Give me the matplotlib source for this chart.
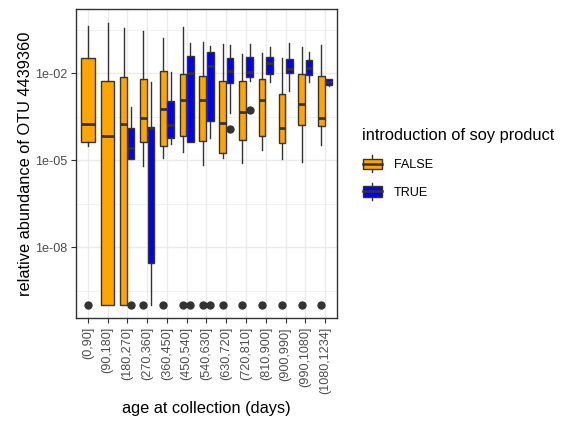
import numpy as np
import matplotlib
matplotlib.use("Agg")
import matplotlib.pyplot as plt
from matplotlib.patches import Patch, Rectangle
from matplotlib.lines import Line2D
from matplotlib.legend_handler import HandlerBase

plt.rcParams['font.family'] = ['Liberation Sans', 'DejaVu Sans']

age_bins = ["(0,90]", "(90,180]", "(180,270]", "(270,360]", "(360,450]",
            "(450,540]", "(540,630]", "(630,720]", "(720,810]", "(810,900]",
            "(900,990]", "(990,1080]", "(1080,1234]"]

# box statistics, log10 of relative abundance: [whisker low, q1, median, q3, whisker high]
false_stats = [
    [-4.51, -4.36, -3.75, -1.46, -0.37],
    [-10.0, -10.0, -4.15, -2.28, -0.28],
    [-10.0, -10.0, -3.75, -2.13, -0.45],
    [-5.20, -4.37, -3.55, -2.20, -0.54],
    [-4.91, -4.50, -3.23, -1.92, -0.79],
    [-4.72, -4.16, -2.92, -2.02, -0.41],
    [-5.16, -4.33, -2.92, -2.08, -0.93],
    [-4.93, -4.76, -3.72, -2.25, -1.00],
    [-5.10, -4.30, -3.32, -2.28, -1.33],
    [-4.64, -4.17, -2.92, -2.21, -1.31],
    [-4.96, -4.40, -3.89, -2.72, -1.48],
    [-5.05, -3.80, -3.05, -2.03, -1.10],
    [-4.46, -3.83, -3.55, -2.08, -1.01],
]
false_fliers = [[-10], [], [], [-10], [-10], [-10], [-10], [-10], [-10], [-10], [-10], [-10], [-10]]

true_stats = [
    None,
    None,
    [-4.96, -4.96, -4.59, -3.90, -3.17],
    [-10.0, -8.55, -3.87, -3.86, -2.30],
    [-4.45, -4.22, -3.78, -2.97, -1.95],
    [-4.37, -4.37, -2.00, -1.40, -0.97],
    [-4.22, -3.63, -1.75, -1.27, -1.05],
    [-3.38, -2.32, -1.91, -1.46, -1.02],
    [-2.25, -2.12, -1.97, -1.45, -0.99],
    [-2.31, -2.02, -1.66, -1.43, -1.10],
    [-2.60, -1.98, -1.86, -1.52, -0.97],
    [-2.29, -2.06, -1.81, -1.54, -1.28],
    [-2.45, -2.41, -2.31, -2.20, -2.20],
]
true_fliers = [[], [], [-10], [], [], [-10], [-10], [-3.92], [-3.28], [], [], [], []]

groups = ["FALSE", "TRUE"]
colors = {"FALSE": "#FFA500", "TRUE": "#0000FF"}
edge = "#333333"


def make_stats(row, fl):
    lo, q1, med, q3, hi = [10.0 ** v for v in row]
    return dict(whislo=lo, q1=q1, med=med, q3=q3, whishi=hi,
                fliers=[10.0 ** v for v in fl])


class BoxKey(HandlerBase):
    def create_artists(self, legend, orig_handle, xdescent, ydescent,
                       width, height, fontsize, trans):
        fc = orig_handle.get_facecolor()
        x0, y0 = -xdescent, -ydescent
        cx = x0 + width / 2
        whisk = Line2D([cx, cx], [y0 - 0.15 * height, y0 + 1.15 * height],
                       color=edge, lw=1.0, transform=trans)
        box = Rectangle((x0 + 0.05 * width, y0 + 0.1 * height), 0.9 * width, 0.8 * height,
                        facecolor=fc, edgecolor=edge, lw=1.0, transform=trans)
        med = Line2D([x0 + 0.05 * width, x0 + 0.95 * width], [y0 + 0.5 * height] * 2,
                     color=edge, lw=1.8, transform=trans)
        return [whisk, box, med]


fig = plt.figure(figsize=(5.64, 4.21), dpi=100)
ax = fig.add_axes([76 / 564, 1 - 318 / 421, 261 / 564, 308.7 / 421])

total_w = 0.75
for i in range(len(age_bins)):
    pos = i + 1
    present = [g for g, s in zip(groups, [false_stats[i], true_stats[i]]) if s is not None]
    n = len(present)
    w = total_w / n
    for k, g in enumerate(present):
        row = false_stats[i] if g == "FALSE" else true_stats[i]
        fl = false_fliers[i] if g == "FALSE" else true_fliers[i]
        p = pos - total_w / 2 + w * (k + 0.5)
        ax.bxp([make_stats(row, fl)], positions=[p], widths=w * 0.9,
               showcaps=False, patch_artist=True, manage_ticks=False,
               boxprops=dict(facecolor=colors[g], edgecolor=edge, linewidth=1.0),
               medianprops=dict(color=edge, linewidth=2.0, solid_capstyle='butt'),
               whiskerprops=dict(color=edge, linewidth=1.0),
               flierprops=dict(marker='o', markerfacecolor=edge, markeredgecolor=edge,
                               markersize=5))

ax.set_yscale('log')
ax.set_ylim(10 ** -10.44, 10 ** 0.207)
ax.set_xlim(0.4, len(age_bins) + 0.6)

ax.set_yticks([1e-2, 1e-5, 1e-8])
ax.set_yticklabels(["1e-02", "1e-05", "1e-08"])
ax.set_yticks([10 ** v for v in [-0.5, -3.5, -6.5, -9.5]], minor=True)
ax.yaxis.set_minor_formatter(matplotlib.ticker.NullFormatter())
ax.set_xticks(range(1, len(age_bins) + 1))
ax.set_xticklabels(age_bins, rotation=90)

ax.grid(True, which='major', color='#EBEBEB', linewidth=1.0)
ax.grid(True, which='minor', axis='y', color='#EBEBEB', linewidth=0.5)
ax.set_axisbelow(True)
ax.tick_params(axis='both', which='major', length=3.5, width=0.8, color=edge,
               labelsize=9.1, labelcolor='#4D4D4D', pad=3)
ax.tick_params(axis='y', which='minor', length=0)
for s in ax.spines.values():
    s.set_color(edge)
    s.set_linewidth(1.0)

ax.set_xlabel("age at collection (days)", fontsize=11.8, labelpad=5)
ax.set_ylabel("relative abundance of OTU 4439360", fontsize=11.8, labelpad=1)

handles = [Patch(facecolor=colors[g], edgecolor=edge) for g in groups]
fig.legend(handles, groups, title="introduction of soy product",
           loc='upper left', bbox_to_anchor=(351 / 564, 1 - 117 / 421),
           frameon=False, fontsize=9.1, title_fontsize=11.8,
           handler_map={Patch: BoxKey()}, handlelength=1.6, handleheight=1.2,
           handletextpad=0.9, labelspacing=1.1, alignment='left')

fig.savefig("out.png", dpi=100)
